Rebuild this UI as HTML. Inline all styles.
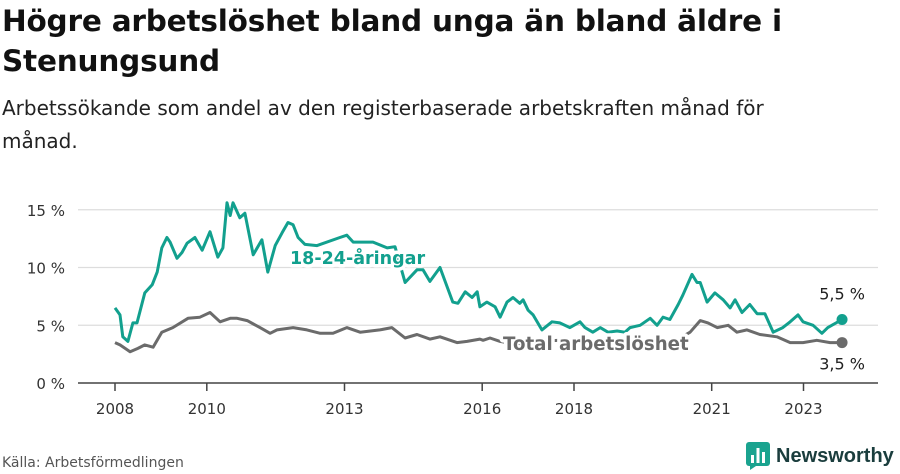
<!DOCTYPE html>
<html><head><meta charset="utf-8"><style>
body{margin:0;width:900px;height:474px;background:#fff;font-family:"DejaVu Sans","Liberation Sans",sans-serif;overflow:hidden;position:relative}
h1{position:absolute;left:2px;top:1px;margin:0;font-size:29.5px;line-height:40px;font-weight:bold;color:#111;width:820px;letter-spacing:-0.2px}
.sub{position:absolute;left:2px;top:92px;font-size:20px;line-height:33px;color:#222;width:815px}
.src{position:absolute;left:2px;top:455px;font-size:14px;color:#555}
.logo{position:absolute;left:746px;top:442px;display:flex;align-items:center;gap:6px;font-size:20px;font-weight:bold;color:#1a3d3d;font-family:"Liberation Sans",sans-serif}
</style></head><body>
<h1>Högre arbetslöshet bland unga än bland äldre i Stenungsund</h1>
<div class="sub">Arbetssökande som andel av den registerbaserade arbetskraften månad för månad.</div>
<svg id="chart" width="900" height="474" style="position:absolute;left:0;top:0"></svg>
<div class="src">Källa: Arbetsförmedlingen</div>
<div class="logo"><svg width="24" height="28" viewBox="0 0 24 28"><rect x="0" y="0" width="24" height="24" rx="3" fill="#1aa38f"/><polygon points="4,24 10,24 4,28" fill="#1aa38f"/><rect x="5" y="13" width="3" height="8" fill="#fff"/><rect x="10.5" y="6" width="3" height="15" fill="#fff"/><rect x="16" y="10" width="3" height="11" fill="#fff"/></svg><span>Newsworthy</span></div>
<script>
const yTicks=[0,5,10,15];
const xTicks=[2008,2010,2013,2016,2018,2021,2023];
const youthYears=[2008.0,2008.11,2008.17,2008.28,2008.39,2008.48,2008.65,2008.81,2008.92,2009.02,2009.13,2009.2,2009.35,2009.46,2009.57,2009.74,2009.9,2010.07,2010.24,2010.35,2010.44,2010.51,2010.57,2010.72,2010.83,2011.01,2011.2,2011.33,2011.49,2011.64,2011.77,2011.88,2011.99,2012.14,2012.4,2012.9,2013.05,2013.19,2013.62,2013.93,2014.1,2014.32,2014.58,2014.71,2014.86,2015.08,2015.36,2015.47,2015.63,2015.78,2015.89,2015.95,2016.1,2016.28,2016.39,2016.54,2016.67,2016.82,2016.89,2017.0,2017.11,2017.3,2017.52,2017.69,2017.91,2018.13,2018.24,2018.41,2018.57,2018.74,2018.94,2019.11,2019.22,2019.44,2019.66,2019.81,2019.94,2020.09,2020.27,2020.37,2020.57,2020.68,2020.75,2020.9,2021.07,2021.25,2021.4,2021.51,2021.66,2021.83,2021.99,2022.16,2022.34,2022.55,2022.71,2022.88,2022.99,2023.21,2023.4,2023.53,2023.84];
const youthVals=[6.5,5.9,4.0,3.6,5.2,5.2,7.8,8.5,9.6,11.7,12.6,12.2,10.8,11.3,12.1,12.6,11.5,13.1,10.9,11.7,15.6,14.5,15.6,14.3,14.7,11.1,12.4,9.6,11.9,13.0,13.9,13.7,12.6,12.0,11.9,12.6,12.8,12.2,12.2,11.7,11.8,8.7,9.8,9.8,8.8,10.0,7.0,6.9,7.9,7.4,7.9,6.6,7.0,6.6,5.7,7.0,7.4,6.9,7.2,6.3,5.9,4.6,5.3,5.2,4.8,5.3,4.8,4.4,4.8,4.4,4.5,4.4,4.8,5.0,5.6,5.0,5.7,5.5,6.8,7.6,9.4,8.7,8.7,7.0,7.8,7.2,6.5,7.2,6.1,6.8,6.0,6.0,4.4,4.8,5.3,5.9,5.3,5.0,4.3,4.8,5.5];
const totalYears=[2008.0,2008.11,2008.33,2008.5,2008.65,2008.83,2009.02,2009.26,2009.59,2009.85,2010.07,2010.29,2010.51,2010.66,2010.88,2011.16,2011.38,2011.53,2011.88,2012.18,2012.47,2012.75,2013.05,2013.34,2013.77,2014.03,2014.32,2014.58,2014.86,2015.08,2015.45,2015.67,2015.95,2016.02,2016.17,2016.39,2016.82,2017.26,2017.69,2018.13,2018.57,2019.0,2019.44,2019.87,2020.27,2020.53,2020.75,2020.92,2021.12,2021.36,2021.55,2021.77,2022.05,2022.42,2022.71,2022.99,2023.29,2023.58,2023.84];
const totalVals=[3.5,3.3,2.7,3.0,3.3,3.1,4.4,4.8,5.6,5.7,6.1,5.3,5.6,5.6,5.4,4.8,4.3,4.6,4.8,4.6,4.3,4.3,4.8,4.4,4.6,4.8,3.9,4.2,3.8,4.0,3.5,3.6,3.8,3.7,3.9,3.6,3.3,3.6,3.7,3.5,3.8,3.6,3.6,3.5,3.8,4.4,5.4,5.2,4.8,5.0,4.4,4.6,4.2,4.0,3.5,3.5,3.7,3.5,3.5];
const NS='http://www.w3.org/2000/svg';
const svg=document.getElementById('chart');
const X=y=>115+(y-2008)*45.9;
const Y=v=>383-v*11.55;
const FF='DejaVu Sans, Liberation Sans, sans-serif';
function mk(t,a){const e=document.createElementNS(NS,t);for(const k in a)e.setAttribute(k,a[k]);svg.appendChild(e);return e;}
yTicks.forEach(t=>{
 const g=mk('line',{x1:78,x2:878,y1:Y(t),y2:Y(t),stroke:t===0?'#444':'#ddd','stroke-width':t===0?1.5:1.3});
 
 
 const l=mk('text',{x:65,y:Y(t)+6,'text-anchor':'end','font-size':15,fill:'#333','font-family':FF});
 l.textContent=t+' %';
 
 
});
xTicks.forEach(t=>{
 const k=mk('line',{x1:X(t),x2:X(t),y1:383,y2:391,stroke:'#444','stroke-width':1.5});
 
 
 const l=mk('text',{x:X(t),y:414,'text-anchor':'middle','font-size':15,fill:'#333','font-family':FF});
 l.textContent=t;
 
 
});
function line(xs,vs,col,name){
 const p=mk('path',{d:xs.map((x,i)=>(i?'L':'M')+X(x).toFixed(1)+','+Y(vs[i]).toFixed(1)).join(''),fill:'none',stroke:col,'stroke-width':3,'stroke-linejoin':'round'});
 
 
 const n=xs.length-1;
 const c=mk('circle',{cx:X(xs[n]),cy:Y(vs[n]),r:5.5,fill:col});
 
 
}
line(totalYears,totalVals,'#6b6b6b','total-line');
line(youthYears,youthVals,'#12a08e','youth-line');
function lab(x,y,txt,col,name,anchor,size,bold){
 const t=mk('text',{x:x,y:y,'text-anchor':anchor,'font-size':size,'font-weight':bold?'bold':'normal',fill:col,stroke:bold?'#fff':'none','stroke-width':bold?7:0,'paint-order':'stroke','stroke-linejoin':'round','font-family':FF});
 t.textContent=txt;
 
 
}
lab(290,264,'18-24-åringar','#12a08e','youth-series-label','start',17.5,true);
lab(503,350,'Total arbetslöshet','#6b6b6b','total-series-label','start',18.2,true);
const ny=youthYears.length-1, nt=totalYears.length-1;
lab(X(youthYears[ny]),Y(youthVals[ny])-20,String(youthVals[ny]).replace('.',',')+' %','#222','youth-end-value','middle',16,false);
lab(X(totalYears[nt]),Y(totalVals[nt])+27,String(totalVals[nt]).replace('.',',')+' %','#222','total-end-value','middle',16,false);
</script>
</body></html>
